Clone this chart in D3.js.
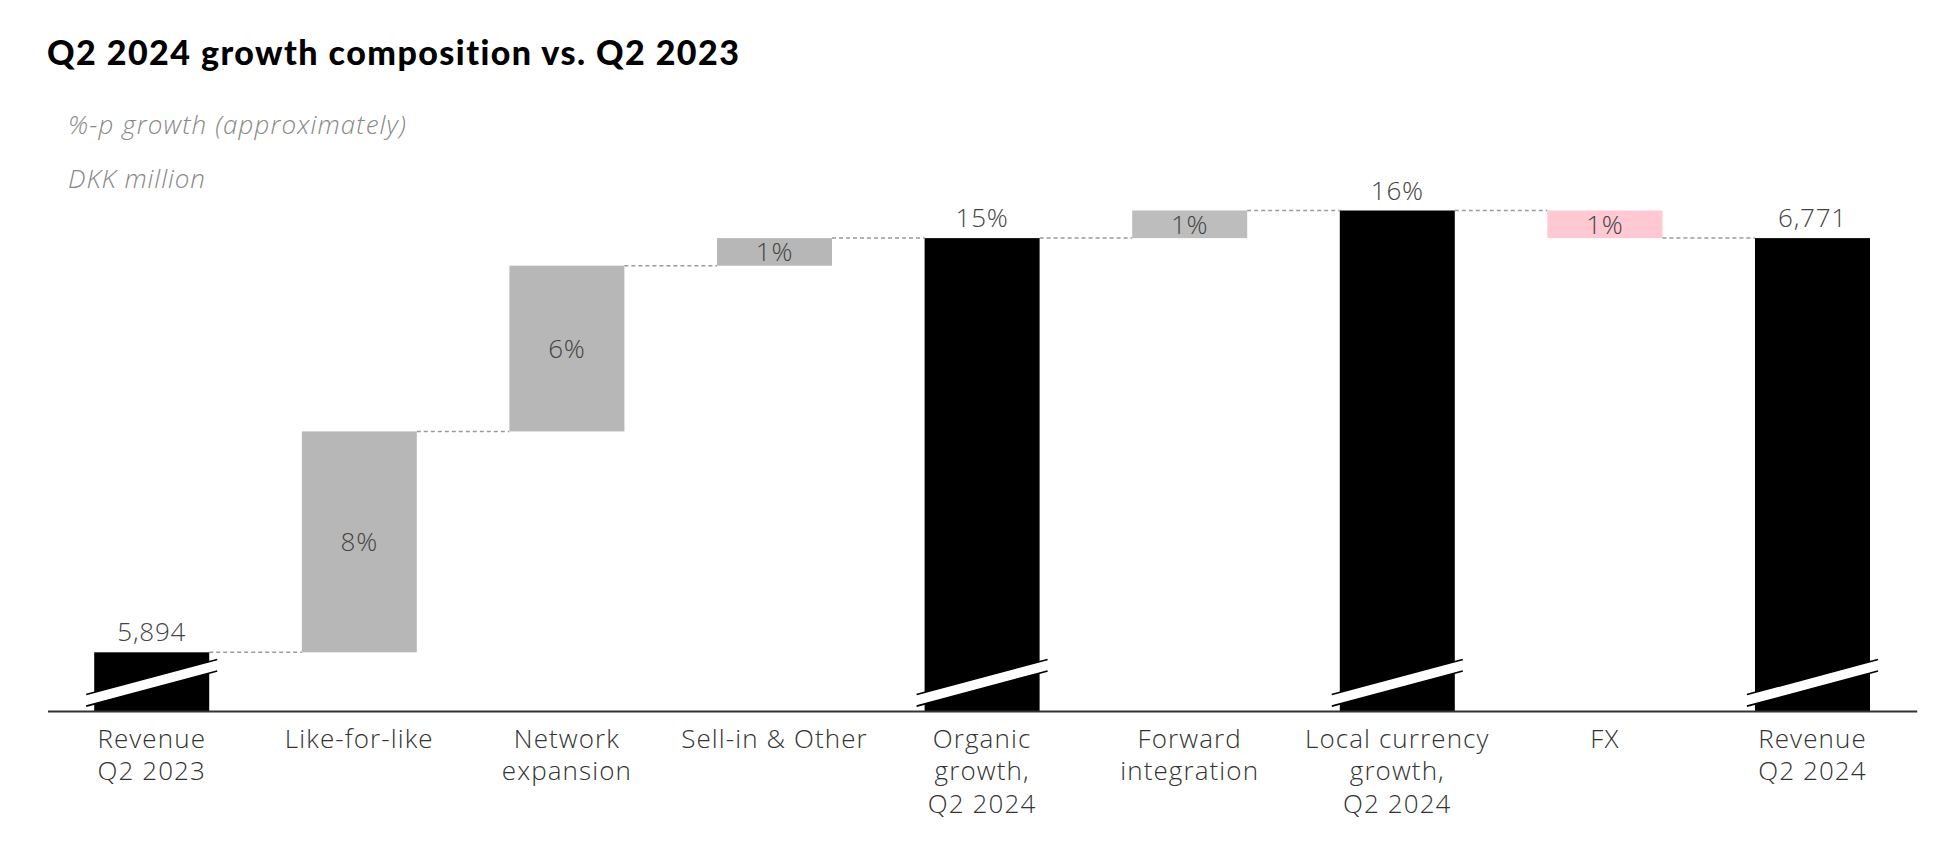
<!DOCTYPE html>
<html>
<head>
<meta charset="utf-8">
<script src="https://cdn.jsdelivr.net/npm/d3@7"></script>
<style>
  html, body { margin: 0; padding: 0; background: #ffffff; }
  svg { display: block; }
</style>
</head>
<body>
<svg id="chart" width="1958" height="844"></svg>
<script>
// ---------- DATA ----------
const categories = [
  "Revenue Q2 2023", "Like-for-like", "Network expansion", "Sell-in & Other",
  "Organic growth, Q2 2024", "Forward integration", "Local currency growth, Q2 2024",
  "FX", "Revenue Q2 2024"
];
const categoryLines = [
  ["Revenue", "Q2 2023"],
  ["Like-for-like"],
  ["Network", "expansion"],
  ["Sell-in & Other"],
  ["Organic", "growth,", "Q2 2024"],
  ["Forward", "integration"],
  ["Local currency", "growth,", "Q2 2024"],
  ["FX"],
  ["Revenue", "Q2 2024"]
];
// %-p growth relative to Q2 2023 revenue
const values = [0, 8, 6, 1, 15, 1, 16, -1, 15];
const barTypes = ["total", "delta", "delta", "delta", "total", "delta", "total", "delta", "total"];
const valueLabels = ["5,894", "8%", "6%", "1%", "15%", "1%", "16%", "1%", "6,771"];
const yTicks = [0, 16];

// ---------- LAYOUT ----------
const W = 1958, H = 844;
const axisY = 711;
const svg = d3.select("#chart");

const x = d3.scaleBand()
  .domain(categories)
  .range([47.5, 1916.7])
  .paddingInner(0.446)
  .paddingOuter(0.225);

const y = d3.scaleLinear()
  .domain(d3.extent(yTicks))
  .range([652.3, 210.5]);

// compute waterfall segments
let running = 0;
const bars = categories.map((c, i) => {
  const v = values[i];
  let start, end;
  if (barTypes[i] === "total") {
    start = null; end = v; running = v;
  } else {
    start = running; end = running + v; running = end;
  }
  return { cat: c, i, v, type: barTypes[i], start, end, after: running, label: valueLabels[i] };
});

const colorFor = (d) => {
  if (d.type === "total") return "#000000";
  if (d.cat === "FX") return "#ffc8d2";
  if (d.cat === "Forward integration") return "#bdbdbd";
  return "#b7b7b7";
};

// ---------- TITLE ----------
svg.append("text")
  .attr("x", 47).attr("y", 65)
  .attr("font-family", "Lato, 'Open Sans', sans-serif")
  .attr("font-weight", 900)
  .attr("font-size", 34)
  .attr("letter-spacing", 1.45)
  .attr("fill", "#000")
  .text("Q2 2024 growth composition vs. Q2 2023");

svg.append("text")
  .attr("x", 68).attr("y", 134)
  .attr("font-family", "'Open Sans', sans-serif")
  .attr("font-weight", 300)
  .attr("font-style", "italic")
  .attr("font-size", 26)
  .attr("letter-spacing", 1.1)
  .attr("fill", "#888")
  .text("%-p growth (approximately)");

svg.append("text")
  .attr("x", 68).attr("y", 188)
  .attr("font-family", "'Open Sans', sans-serif")
  .attr("font-weight", 300)
  .attr("font-style", "italic")
  .attr("font-size", 26)
  .attr("letter-spacing", 0.9)
  .attr("fill", "#888")
  .text("DKK million");

// ---------- CONNECTORS ----------
const conn = svg.append("g");
bars.slice(0, -1).forEach((d, i) => {
  const x1 = x(d.cat) + x.bandwidth();
  const x2 = x(categories[i + 1]);
  conn.append("line")
    .attr("x1", x1).attr("x2", x2)
    .attr("y1", y(d.after)).attr("y2", y(d.after))
    .attr("stroke", "#9a9a9a")
    .attr("stroke-width", 1.5)
    .attr("stroke-dasharray", "4,3");
});

// ---------- BARS ----------
const g = svg.append("g");
g.selectAll("rect.bar")
  .data(bars)
  .join("rect")
  .attr("class", "bar")
  .attr("x", d => x(d.cat))
  .attr("width", x.bandwidth())
  .attr("y", d => d.type === "total" ? y(d.end) : Math.min(y(d.start), y(d.end)))
  .attr("height", d => d.type === "total" ? axisY - y(d.end) : Math.abs(y(d.start) - y(d.end)))
  .attr("fill", colorFor);

// ---------- BREAK MARKS ----------
const totals = bars.filter(d => d.type === "total");
totals.forEach(d => {
  const ext = 8;
  const xl = x(d.cat) - ext, xr = x(d.cat) + x.bandwidth() + ext;
  const upL = axisY - 16.5, upR = axisY - 51.5;
  const loL = axisY - 4.8, loR = axisY - 40;
  svg.append("polygon")
    .attr("points", [[xl, upL], [xr, upR], [xr, loR], [xl, loL]].map(p => p.join(",")).join(" "))
    .attr("fill", "#ffffff");
  svg.append("line").attr("x1", xl).attr("y1", upL).attr("x2", xr).attr("y2", upR)
    .attr("stroke", "#000").attr("stroke-width", 1.8);
  svg.append("line").attr("x1", xl).attr("y1", loL).attr("x2", xr).attr("y2", loR)
    .attr("stroke", "#000").attr("stroke-width", 1.8);
});

// ---------- AXIS ----------
const xAxis = d3.axisBottom(x).tickSize(0).tickFormat("");
const axG = svg.append("g").attr("transform", `translate(0,${axisY})`).call(xAxis);
axG.select(".domain").attr("stroke", "#333").attr("stroke-width", 2);

// category labels
const lab = svg.append("g")
  .attr("font-family", "'Open Sans', sans-serif")
  .attr("font-weight", 300)
  .attr("font-size", 26)
  .attr("letter-spacing", 1.1)
  .attr("fill", "#333")
  .attr("text-anchor", "middle");
categories.forEach((c, i) => {
  const t = lab.append("text")
    .attr("x", x(c) + x.bandwidth() / 2)
    .attr("y", axisY + 37);
  categoryLines[i].forEach((ln, k) => {
    t.append("tspan")
      .attr("x", x(c) + x.bandwidth() / 2)
      .attr("dy", k === 0 ? 0 : 32.3)
      .text(ln);
  });
});

// value labels
const vl = svg.append("g")
  .attr("font-family", "'Open Sans', sans-serif")
  .attr("font-weight", 300)
  .attr("font-size", 26)
  .attr("letter-spacing", 0.8)
  .attr("fill", "#444")
  .attr("text-anchor", "middle");
bars.forEach(d => {
  const cx = x(d.cat) + x.bandwidth() / 2;
  if (d.type === "total") {
    vl.append("text").attr("x", cx).attr("y", y(d.end) - 11).text(d.label);
  } else {
    vl.append("text").attr("x", cx)
      .attr("y", (y(d.start) + y(d.end)) / 2)
      .attr("dy", "0.36em")
      .text(d.label);
  }
});
</script>
</body>
</html>
